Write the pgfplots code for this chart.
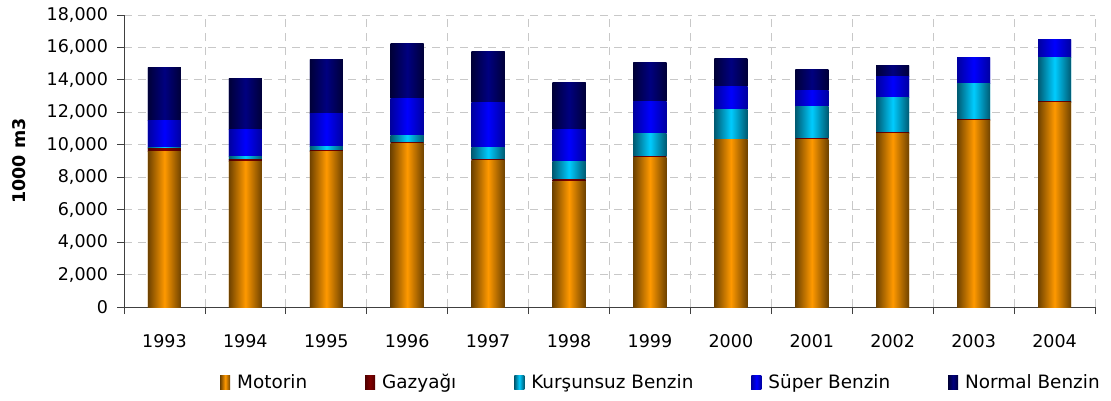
\documentclass[border=0pt]{standalone}
\usepackage{fontspec}
\setmainfont{DejaVu Sans}
\usepackage{pgfplots}
\usepackage{pgfplotstable}
\pgfplotsset{compat=1.18}
\definecolor{orgC}{HTML}{FF9900}
\definecolor{orgD}{HTML}{6E4200}
\definecolor{redC}{HTML}{800000}
\definecolor{redD}{HTML}{500000}
\definecolor{cyaC}{HTML}{00CCFF}
\definecolor{cyaD}{HTML}{005A72}
\definecolor{supC}{HTML}{0000FF}
\definecolor{supD}{HTML}{0000A0}
\definecolor{norC}{HTML}{000080}
\definecolor{norD}{HTML}{000038}
\definecolor{gridC}{HTML}{C8C8C8}
\pgfplotstableread{
x year motorin gaz kursunsuz super normal
0 1993 9580 170 80 1640 3270
1 1994 8970 100 200 1670 3120
2 1995 9560 60 270 2030 3310
3 1996 10100 30 440 2260 3400
4 1997 9010 60 760 2750 3200
5 1998 7730 100 1110 1990 2930
6 1999 9240 30 1400 1990 2440
7 2000 10320 30 1820 1400 1720
8 2001 10340 30 1960 990 1310
9 2002 10710 30 2150 1290 680
10 2003 11510 30 2210 1600 0
11 2004 12620 30 2760 1050 0
}\data
\pgfplotsset{
  shadedbar/.style n args={3}{
    draw=none, fill=#2,
    visualization depends on={max(\thisrow{#1}*292/18000,0.01) \as \barh},
    nodes near coords={},
    every node near coord/.append style={anchor=center, inner sep=0pt, outer sep=0pt,
      minimum width=33pt, minimum height=\barh pt, draw=none,
      left color=#3, right color=#3, middle color=#2},
    legend image code/.code={\path[draw=none, left color=#3, right color=#3, middle color=#2] (0pt,-7pt) rectangle (10pt,7pt);},
  },
}
\begin{document}
\fontsize{17.5}{20}\selectfont
\begin{tikzpicture}
\useasboundingbox (-124pt,-93pt) rectangle (987pt,307pt);
\begin{axis}[
  scale only axis,
  width=971pt, height=292pt,
  ybar stacked, bar width=33pt,
  xmin=-0.5, xmax=11.5,
  ymin=0, ymax=18000,
  ytick={0,2000,...,18000},
  xtick={0,...,11},
  xticklabels={1993,1994,1995,1996,1997,1998,1999,2000,2001,2002,2003,2004},
  minor xtick={-0.5,0.5,...,11.5},
  major x tick style={draw=none},
  minor x tick style={black!75, line width=0.8pt},
  minor tick length=7pt,
  major tick length=7pt,
  tick align=outside,
  ytick style={black!75, line width=0.8pt},
  x tick label style={yshift=-14pt},
  y tick label style={xshift=-3pt},
  /pgf/number format/.cd, 1000 sep={,}, assume math mode=true,
  /pgfplots/.cd,
  scaled y ticks=false,
  axis x line*=bottom, axis y line*=left,
  axis line style={black!75, line width=0.8pt, -},
  ymajorgrids, xminorgrids,
  major grid style={gridC, dash pattern=on 8pt off 6pt, line width=0.8pt},
  minor grid style={gridC, dash pattern=on 8pt off 6pt, line width=0.8pt},
  ticklabel style={font=\fontsize{17.5}{20}\selectfont},
  ylabel={\bfseries 1000 m3},
  ylabel style={at={(rel axis cs:-0.1081,0.5)}, anchor=center, font=\fontsize{17.5}{20}\selectfont},
  legend columns=5,
  legend style={at={(0.0989,-0.26)}, anchor=west, draw=none, inner sep=0pt,
    font=\fontsize{18.4}{20}\selectfont,
    /tikz/every odd column/.append style={column sep=5pt},
    /tikz/every even column/.append style={column sep=56pt}},
]
\addplot[shadedbar={motorin}{orgC}{orgD}] table[x=x,y=motorin]{\data};
\addplot[shadedbar={gaz}{redC}{redD}] table[x=x,y=gaz]{\data};
\addplot[shadedbar={kursunsuz}{cyaC}{cyaD}] table[x=x,y=kursunsuz]{\data};
\addplot[shadedbar={super}{supC}{supD}] table[x=x,y=super]{\data};
\addplot[shadedbar={normal}{norC}{norD}] table[x=x,y=normal]{\data};
\legend{Motorin,Gazyağı,Kurşunsuz Benzin,Süper Benzin,Normal Benzin}
\end{axis}
\end{tikzpicture}
\end{document}
